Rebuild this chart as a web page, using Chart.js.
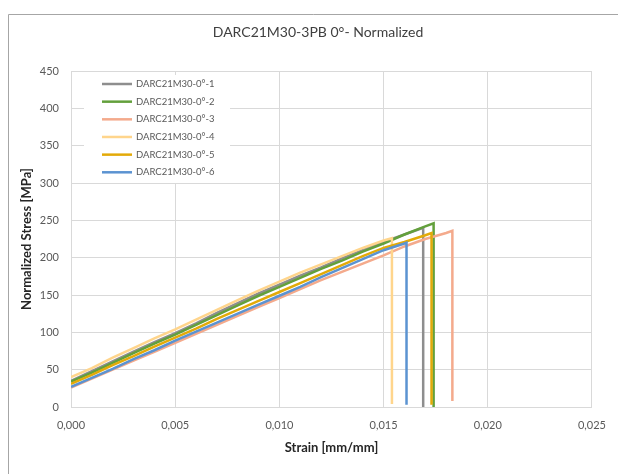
<!DOCTYPE html>
<html>
<head>
<meta charset="utf-8">
<script src="https://cdn.jsdelivr.net/npm/chart.js@4/dist/chart.umd.min.js"></script>
<style>
  html, body { margin: 0; padding: 0; background: #fff; }
  canvas { display: block; }
</style>
</head>
<body>
<canvas id="stressChart" width="618" height="474"></canvas>
<script>
// Probetas 3PB a 0°: tensión normalizada frente a deformación
const specimenLabels = [
  "DARC21M30-0°-1", "DARC21M30-0°-2", "DARC21M30-0°-3",
  "DARC21M30-0°-4", "DARC21M30-0°-5", "DARC21M30-0°-6"
];
const lineColors = ["#8e8e8e", "#63a03c", "#f4aa8c", "#ffd58c", "#e3aa08", "#5b93d1"];

// deformación común de muestreo [mm/mm]
const strainSteps = [0, 0.001, 0.002, 0.003, 0.004, 0.005, 0.006, 0.007, 0.008, 0.009,
  0.010, 0.011, 0.012, 0.013, 0.014, 0.015, 0.016, 0.017, 0.018];

// tensión [MPa] en cada paso hasta la rotura
const stress1 = [35, 48, 61, 74, 87, 99, 112, 126, 139, 152, 164, 176, 187, 199, 210, 221, 231];
const stress2 = [34, 46, 59, 72, 85, 97, 110, 123, 136, 149, 161, 173, 185, 196, 208, 219, 231, 242];
const stress3 = [26, 38, 50, 62, 74, 86, 98, 110, 122, 134, 146, 158, 170, 181, 192, 203, 215, 225, 233];
const stress4 = [40, 52, 66, 79, 92, 104, 117, 130, 143, 156, 168, 180, 191, 202, 213, 223];
const stress5 = [31, 43, 56, 68, 81, 93, 105, 118, 130, 142, 154, 166, 178, 190, 202, 213, 221, 230];
const stress6 = [27, 39, 51, 64, 76, 89, 101, 113, 125, 137, 149, 161, 174, 186, 198, 210, 219];

// punto de rotura y tensión residual tras la caída
const failStrain = [0.0169, 0.0174, 0.0183, 0.0154, 0.0173, 0.0161];
const failStress = [240, 246, 236, 226, 233, 220];
const residualStress = [0, 0, 8, 4, 3, 3];

const stressSeries = [stress1, stress2, stress3, stress4, stress5, stress6];

const buildPoints = (idx) => {
  const pts = stressSeries[idx].map((s, i) => ({ x: strainSteps[i], y: s }));
  pts.push({ x: failStrain[idx], y: failStress[idx] });
  pts.push({ x: failStrain[idx], y: residualStress[idx] });
  return pts;
};

const FONT = "Lato, 'Liberation Sans', sans-serif";
const TEXT_GRAY = "#595959";
const GRID = "#d9d9d9";

// marco, título y leyenda dibujados a mano
const decorPlugin = {
  id: "decor",
  beforeDraw(chart) {
    const { ctx } = chart;
    ctx.save();
    ctx.strokeStyle = "#a6a6a6";
    ctx.lineWidth = 1;
    ctx.beginPath();
    ctx.moveTo(8.5, 480);
    ctx.lineTo(8.5, 14.5);
    ctx.lineTo(620, 14.5);
    ctx.stroke();
    ctx.fillStyle = "#404040";
    ctx.font = `14px ${FONT}`;
    ctx.textAlign = "center";
    ctx.textBaseline = "middle";
    ctx.fillText("DARC21M30-3PB 0°- Normalized", 318, 32);
    ctx.restore();
  },
  afterDatasetsDraw(chart) {
    const { ctx } = chart;
    ctx.save();
    ctx.fillStyle = "#fff";
    ctx.fillRect(84, 75, 146, 108);
    ctx.font = `9.5px ${FONT}`;
    ctx.textBaseline = "middle";
    ctx.textAlign = "left";
    chart.data.datasets.forEach((ds, i) => {
      const y = 84 + i * 17.66;
      ctx.strokeStyle = ds.borderColor;
      ctx.lineWidth = 2.5;
      ctx.beginPath();
      ctx.moveTo(102, y);
      ctx.lineTo(132, y);
      ctx.stroke();
      ctx.fillStyle = TEXT_GRAY;
      ctx.fillText(ds.label, 136, y);
    });
    ctx.restore();
  }
};

new Chart(document.getElementById("stressChart"), {
  type: "line",
  data: {
    datasets: specimenLabels.map((label, i) => ({
      label,
      data: buildPoints(i),
      borderColor: lineColors[i],
      backgroundColor: lineColors[i],
      borderWidth: 2.5,
      pointRadius: 0,
      tension: 0,
      order: specimenLabels.length - i
    }))
  },
  options: {
    responsive: false,
    animation: false,
    devicePixelRatio: 1,
    layout: { padding: { top: 71, right: 23, bottom: 0, left: 0 } },
    plugins: {
      legend: { display: false },
      title: { display: false },
      tooltip: { enabled: false }
    },
    scales: {
      x: {
        type: "linear",
        min: 0,
        max: 0.025,
        afterFit: (scale) => { scale.height = 67; },
        grid: { color: GRID, drawTicks: false },
        border: { color: GRID },
        ticks: {
          stepSize: 0.005,
          padding: 12,
          color: TEXT_GRAY,
          font: { family: FONT, size: 11 },
          callback: (v) => v.toFixed(3).replace(".", ",")
        },
        title: {
          display: true,
          text: "Strain [mm/mm]",
          color: "#262626",
          font: { family: FONT, size: 13, weight: "bold" },
          padding: { top: 0, bottom: 18 }
        }
      },
      y: {
        min: 0,
        max: 450,
        afterFit: (scale) => { scale.width = 71; },
        grid: { color: GRID, drawTicks: false },
        border: { color: GRID },
        ticks: {
          stepSize: 50,
          padding: 12,
          color: TEXT_GRAY,
          font: { family: FONT, size: 11 }
        },
        title: {
          display: true,
          text: "Normalized Stress [MPa]",
          color: "#262626",
          font: { family: FONT, size: 13, weight: "bold" },
          padding: { top: 19, bottom: 0 }
        }
      }
    }
  },
  plugins: [decorPlugin]
});
</script>
</body>
</html>
